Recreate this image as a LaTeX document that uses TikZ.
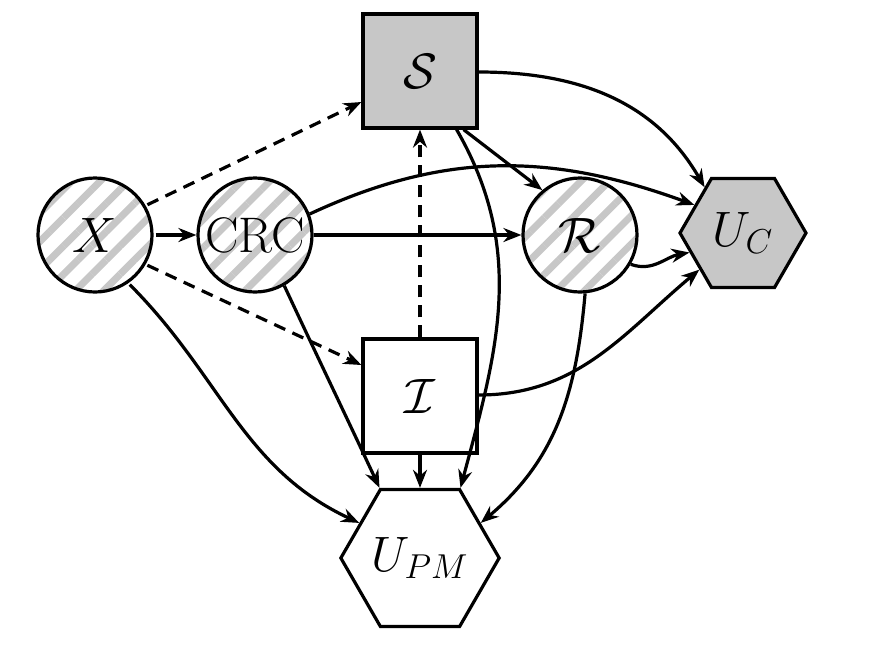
\documentclass[tikz,border=0pt]{standalone}
\usetikzlibrary{shapes.geometric,arrows.meta,patterns.meta}
\begin{document}
\begin{tikzpicture}[x=0.5pt,y=-0.5pt,line width=1.6pt,
  every node/.style={font=\fontsize{25}{29}\selectfont},
  hatch/.style={circle,draw,minimum size=57pt,inner sep=0pt,
    preaction={fill=white},
    pattern={Lines[angle=45,distance=10pt,line width=3.5pt]},pattern color=black!22},
  box/.style={rectangle,draw,minimum size=57pt,inner sep=0pt},
  hexa/.style={regular polygon,regular polygon sides=6,draw,inner sep=0pt},
  arr/.style={-{Stealth[length=9pt,width=7pt]}},
  dsh/.style={arr,dash pattern=on 6pt off 4pt}]
\useasboundingbox (0,0) rectangle (889,649);
\node[hatch] (X) at (95,235) {$X$};
\node[hatch] (CRC) at (255,235) {CRC};
\node[hatch] (R) at (580,235) {$\mathcal{R}$};
\node[box,fill=black!22] (S) at (420,71) {$\mathcal{S}$};
\node[box] (I) at (420,396) {$\mathcal{I}$};
\node[hexa,fill=black!22,minimum size=63pt] (UC) at (743,233) {$U_C$};
\node[hexa,minimum size=78pt] (UPM) at (420,558) {$U_{PM}$};
\draw[arr] (X) -- (CRC);
\draw[dsh] (X.30) -- (S.south west |- 0,102);
\draw[dsh] (X.-30) -- (I.west |- 0,365);
\draw[arr] (X.-55) to[out=-45,in=155] (UPM.150);
\draw[arr] (CRC) -- (R);
\draw[arr] (CRC.21) to[out=25,in=160] (UC.150);
\draw[arr] (CRC.-60) to[out=-65,in=115] (UPM.120);
\draw[arr] (S.east |- 0,72) to[out=0,in=120] (UC.130);
\draw[arr] (S.south east) ++(-15,0) coordinate (s1) -- (R.130);
\draw[arr] (S.south east) ++(-22,0) to[out=-60,in=75] (UPM.60);
\draw[dsh] (I) -- (S);
\draw[arr] (I) -- (UPM);
\draw[arr] (I.east |- 0,395) to[out=0,in=-140] (UC.-140);
\draw[arr] (R.-30) to[out=-20,in=190] (UC.200);
\draw[arr] (R.-85) to[out=-95,in=40] (UPM.30);
\end{tikzpicture}
\end{document}
